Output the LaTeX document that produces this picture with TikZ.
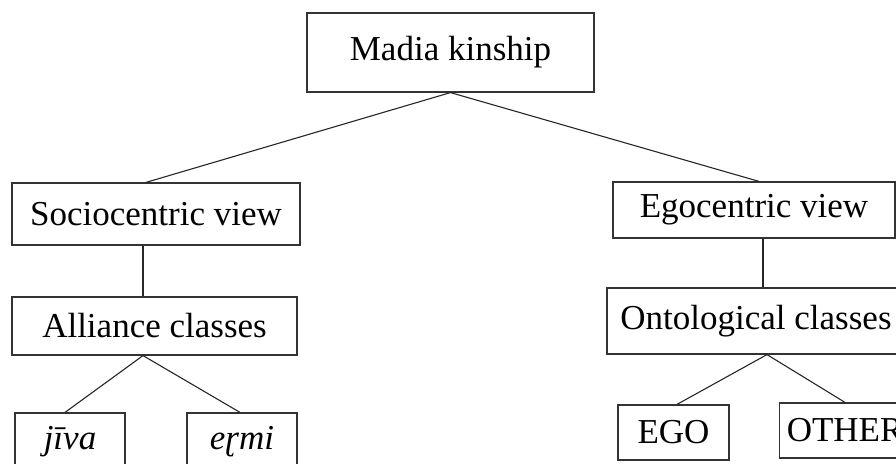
\documentclass[tikz,border=0pt]{standalone}
\usepackage{fontspec}
\setmainfont{Liberation Serif}
\usepackage{tikz}
\usetikzlibrary{positioning,calc}

\begin{document}
\begin{tikzpicture}[x=.5pt,y=-.5pt,
    box/.style={draw=black!80,line width=.6pt,inner sep=0pt,font=\fontsize{17.5}{21}\selectfont},
    link/.style={draw=black!85,line width=.55pt}]
    \useasboundingbox (0,0) rectangle (896,464);
    \clip (0,0) rectangle (896,464);

    \node[box,minimum width=143.5pt,minimum height=39.5pt] (madia) at (450.5,52.5) {Madia kinship};

    \node[box,minimum width=144pt,minimum height=31pt] (socio) at (156,214) {Sociocentric view};
    \node[box,minimum width=141pt,minimum height=28pt] (ego) at (754,210) {Egocentric view};

    \node[box,minimum width=142.5pt,minimum height=29pt] (alliance) at (154.5,326) {Alliance classes};
    \node[box,minimum width=149pt,minimum height=33pt] (onto) at (756,321) {Ontological classes};

    \node[box,minimum width=55pt,minimum height=28.5pt] (jiva) at (70,441.5) {\itshape jīva};
    \node[box,minimum width=55pt,minimum height=28.5pt] (ermi) at (242,441.5) {\itshape eɽmi};
    \node[box,minimum width=55.5pt,minimum height=27.5pt] (egobox) at (673.5,432.5) {EGO};
    \node[box,minimum width=65.5pt,minimum height=27.5pt,inner xsep=2pt,anchor=west] (other) at (779,430.5) {OTHER};

    % top level
    \draw[link] (madia.south) -- ([xshift=-5pt]socio.north);
    \draw[link] (madia.south) -- ([xshift=2.5pt]ego.north);
    \draw[link] ([xshift=-6.5pt]socio.south) -- ([xshift=-5.75pt]alliance.north);
    \draw[link] ([xshift=4.5pt]ego.south) -- ([xshift=3.5pt]onto.north);

    % classes
    \draw[link] ([xshift=-5.75pt]alliance.south) -- ([xshift=-2.5pt]jiva.north);
    \draw[link] ([xshift=-5.75pt]alliance.south) -- ([xshift=-1pt]ermi.north);
    \draw[link] ([xshift=5.5pt]onto.south) -- ([xshift=1.75pt]egobox.north);
    \draw[link] ([xshift=5.5pt]onto.south) -- ([xshift=33pt]other.north west);
\end{tikzpicture}
\end{document}
